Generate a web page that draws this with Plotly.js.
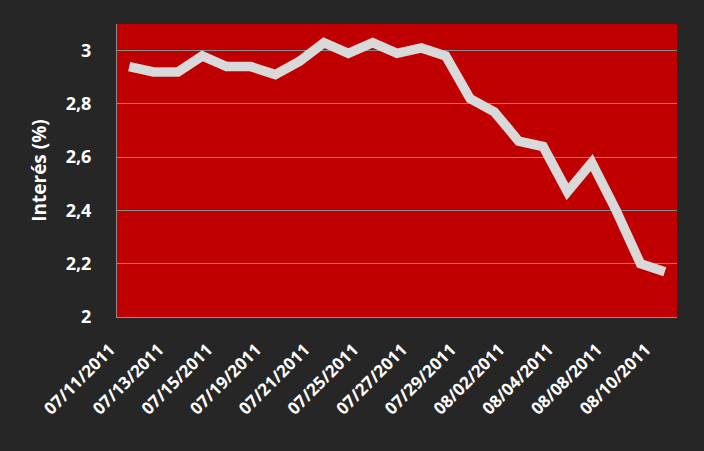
<!DOCTYPE html>
<html>
<head>
<meta charset="utf-8">
<script src="https://cdn.plot.ly/plotly-3.0.1.min.js"></script>
<style>html,body{margin:0;padding:0;background:#262626;}#chart{width:704px;height:451px;}</style>
</head>
<body>
<div id="chart"></div>
<script>
const dates = ["07/11/2011","07/12/2011","07/13/2011","07/14/2011","07/15/2011","07/18/2011","07/19/2011","07/20/2011","07/21/2011","07/22/2011","07/25/2011","07/26/2011","07/27/2011","07/28/2011","07/29/2011","08/01/2011","08/02/2011","08/03/2011","08/04/2011","08/05/2011","08/08/2011","08/09/2011","08/10/2011"];
const rates = [2.94,2.92,2.92,2.98,2.94,2.94,2.91,2.96,3.03,2.99,3.03,2.99,3.01,2.98,2.82,2.77,2.66,2.64,2.47,2.58,2.40,2.20,2.17];
const tickDates = dates.filter((d,i)=>i%2===0);
const yTicks = [2,2.2,2.4,2.6,2.8,3];
const yTickText = ["2","2,2","2,4","2,6","2,8","3"];

const trace = {
  x: dates, y: rates, type: 'scatter', mode: 'lines',
  line: {color: '#D9D9D9', width: 9.5, shape: 'linear'},
  hoverinfo: 'skip'
};
const fam = '"Open Sans", "Liberation Sans", sans-serif';
const xfont = {family: fam, color: '#FFFFFF', size: 17, weight: 700};
const yfont = {family: fam, color: '#FFFFFF', size: 18, weight: 700};
const layout = {
  width: 704, height: 451,
  paper_bgcolor: '#262626', plot_bgcolor: '#C00000',
  margin: {l: 117, r: 27, t: 24, b: 134},
  showlegend: false,
  font: xfont,
  xaxis: {
    type: 'category', tickmode: 'array', tickvals: tickDates, ticktext: tickDates,
    tickangle: -45, tickfont: xfont, showgrid: false, zeroline: false,
    showline: true, linecolor: '#8C8C8C', linewidth: 1, ticks: '', range: [-0.5, dates.length - 0.5],
    ticklabelstandoff: 15, ticklabelshift: -19
  },
  yaxis: {
    range: [2, 3.1], tickmode: 'array', tickvals: yTicks, ticktext: yTickText,
    tickfont: yfont, showgrid: true, gridcolor: '#8C8C8C', gridwidth: 1, zeroline: false,
    showline: true, linecolor: '#8C8C8C', linewidth: 1, ticks: '', ticklabelstandoff: 21,
    title: {text: 'Interés (%)', font: {family: fam, color: '#FFFFFF', size: 19, weight: 700}, standoff: 14}
  }
};
Plotly.newPlot('chart', [trace], layout, {displayModeBar: false, staticPlot: true});
</script>
</body>
</html>
